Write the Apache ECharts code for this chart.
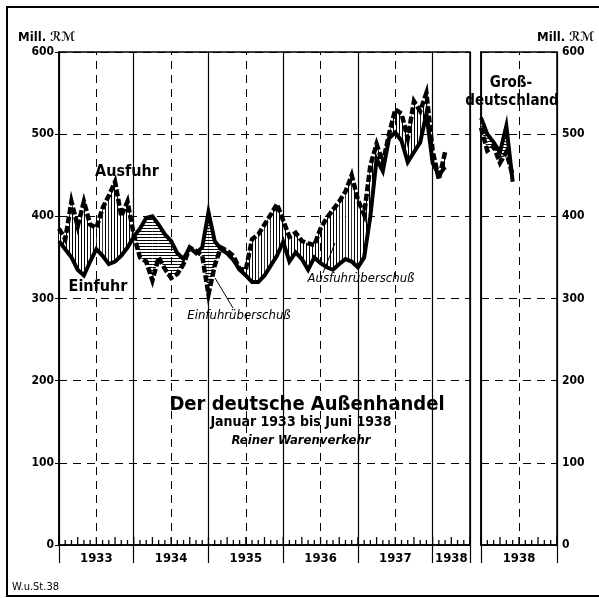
<!DOCTYPE html>
<html><head><meta charset="utf-8">
<script src="https://cdn.jsdelivr.net/npm/echarts@6/dist/echarts.min.js"></script>
<style>html,body{margin:0;padding:0;background:#fff}#c{width:599px;height:598px}</style>
</head><body><div id="c"></div>
<script>
// Monthly values, Mill. RM — Altreich Jan 1933 .. Mar 1938 (index 0 = Jan 1933)
const ausfuhr = [
  385, 372, 418, 388, 418, 390, 386, 410, 425, 442, 400, 418,
  378, 350, 345, 322, 350, 336, 325, 330, 342, 362, 358, 352,
  305, 340, 362, 358, 352, 336, 335, 372, 378, 390, 402, 415,
  395, 375, 380, 370, 367, 365, 385, 398, 408, 418, 430, 450,
  420, 402, 462, 488, 465, 500, 530, 525, 495, 540, 528, 550,
  480, 445, 478
];
const einfuhr = [
  370, 360, 350, 335, 328, 345, 360, 352, 342, 345, 352, 362,
  375, 385, 398, 400, 390, 378, 370, 355, 348, 362, 355, 362,
  405, 370, 360, 355, 347, 335, 328, 320, 320, 328, 340, 352,
  369, 345, 356, 348, 335, 350, 343, 338, 335, 342, 348, 345,
  338, 350, 400, 470, 455, 495, 502, 492, 466, 478, 490, 525,
  465, 450, 460
];
// Großdeutschland Jan .. Jun 1938
const ausfuhrGD = [508, 480, 485, 465, 478, 450];
const einfuhrGD = [520, 500, 490, 478, 510, 442];

const yearLabelsLeft = ['1933', '1934', '1935', '1936', '1937', '1938'];
const yearLabelPosLeft = [6, 18, 30, 42, 54, 63];
const yearLabelsRight = ['1938'];
const yearLabelPosRight = [6];
const midYearLeft = [6, 18, 30, 42, 54];
const midYearRight = [6];
const monthsLeft = 66;
const monthsRight = 12;

const FONT = "'DejaVu Sans Condensed','DejaVu Sans',sans-serif";

function makePattern(vertical) {
  const c = document.createElement('canvas');
  c.width = 3; c.height = 3;
  const ctx = c.getContext('2d');
  ctx.fillStyle = '#fff'; ctx.fillRect(0, 0, 3, 3);
  ctx.fillStyle = '#000';
  if (vertical) ctx.fillRect(0, 0, 1, 3); else ctx.fillRect(0, 0, 3, 1);
  return { image: c, repeat: 'repeat' };
}
const vPat = makePattern(true);
const hPat = makePattern(false);

function hatchRender(A, E) {
  return function (params, api) {
    const i = params.dataIndex;
    const x1 = i, x2 = i + 1;
    const a1 = A[i], a2 = A[i + 1], e1 = E[i], e2 = E[i + 1];
    const d1 = a1 - e1, d2 = a2 - e2;
    const P = (x, v) => api.coord([x, v]);
    const poly = (pts, d) => ({ type: 'polygon', shape: { points: pts }, style: { fill: d >= 0 ? vPat : hPat, stroke: null } });
    const children = [];
    if (d1 * d2 >= 0) {
      children.push(poly([P(x1, a1), P(x2, a2), P(x2, e2), P(x1, e1)], d1 + d2));
    } else {
      const t = d1 / (d1 - d2);
      const xc = x1 + t, vc = a1 + t * (a2 - a1);
      children.push(poly([P(x1, a1), P(xc, vc), P(x1, e1)], d1));
      children.push(poly([P(xc, vc), P(x2, a2), P(x2, e2)], d2));
    }
    return { type: 'group', children };
  };
}

// month tick marks drawn upward from the zero line
function tickRender(params, api) {
  const m = api.value(0);
  const p = api.coord([m, 0]);
  const len = (m % 3 === 0) ? 8 : 5;
  return { type: 'line', shape: { x1: p[0], y1: p[1], x2: p[0], y2: p[1] - len }, style: { stroke: '#000', lineWidth: 1.3 } };
}

const toXY = arr => arr.map((v, i) => [i, v]);
const segs = arr => arr.slice(0, -1).map((v, i) => [i, v]);
const range = n => Array.from({ length: n + 1 }, (_, i) => [i, 0]);

function labelFmt(pos, labels) {
  return v => { const k = pos.indexOf(v); return k >= 0 ? labels[k] : ''; };
}

const baseXAxis = (grid, max, pos, labels) => ({
  type: 'value', gridIndex: grid, min: 0, max: max, interval: 3, position: 'bottom',
  axisLine: { show: true, lineStyle: { color: '#000', width: 1.5 } },
  axisTick: { show: false },
  splitLine: { show: false },
  axisLabel: { show: true, formatter: labelFmt(pos, labels), color: '#000', fontFamily: FONT, fontWeight: 'bold', fontSize: 13, margin: 7, showMinLabel: true, showMaxLabel: true, hideOverlap: false }
});
const yearXAxis = (grid, max) => ({
  type: 'value', gridIndex: grid, min: 0, max: max, interval: 12, position: 'bottom',
  axisLine: { show: false },
  axisTick: { show: true, inside: false, length: 18, lineStyle: { color: '#000', width: 1.2 } },
  axisLabel: { show: false },
  splitLine: { show: true, lineStyle: { color: '#000', width: 1.2, type: 'solid' } }
});
const yAx = (grid, pos) => ({
  type: 'value', gridIndex: grid, min: 0, max: 600, interval: 100, position: pos,
  axisLine: { show: true, lineStyle: { color: '#000', width: 1.5 } },
  axisTick: { show: true, length: 4, lineStyle: { color: '#000' } },
  axisLabel: { color: '#000', fontFamily: FONT, fontWeight: 'bold', fontSize: 12, margin: 5 },
  splitLine: { show: true, lineStyle: { color: '#000', width: 1, type: [8, 6] } }
});

const markV = (vals) => ({
  silent: true, symbol: ['none', 'none'], animation: false,
  label: { show: false },
  lineStyle: { color: '#000', width: 1, type: [8, 6] },
  emphasis: { disabled: true },
  data: vals.map(v => ({ xAxis: v }))
});

const lineS = (name, data, xi, yi, dashed) => ({
  name, type: 'line', xAxisIndex: xi, yAxisIndex: yi, data: toXY(data),
  symbol: 'none', z: 5,
  lineStyle: { color: '#000', width: dashed ? 4.5 : 4, type: dashed ? [7, 2.5] : 'solid', cap: 'butt', join: 'miter' }
});

const gtext = (text, x, y, size, opts = {}) => ({
  type: 'text', x, y, z: 20,
  style: Object.assign({ text, fill: '#000', font: `${opts.italic ? 'italic ' : ''}${opts.bold === false ? 'normal' : 'bold'} ${size}px ${FONT}`, textAlign: opts.align || 'center', textVerticalAlign: 'middle' })
});

const option = {
  animation: false,
  backgroundColor: '#fff',
  grid: [
    { left: 59, top: 52, width: 411, height: 493, show: true, borderColor: '#000', borderWidth: 1.5, backgroundColor: 'transparent' },
    { left: 481, top: 52, width: 76, height: 493, show: true, borderColor: '#000', borderWidth: 1.5, backgroundColor: 'transparent' }
  ],
  xAxis: [
    baseXAxis(0, monthsLeft, yearLabelPosLeft, yearLabelsLeft),
    yearXAxis(0, monthsLeft),
    baseXAxis(1, monthsRight, yearLabelPosRight, yearLabelsRight),
    yearXAxis(1, monthsRight)
  ],
  yAxis: [yAx(0, 'left'), yAx(1, 'right')],
  series: [
    { type: 'line', xAxisIndex: 0, yAxisIndex: 0, data: [], markLine: markV(midYearLeft), z: 1 },
    { type: 'line', xAxisIndex: 2, yAxisIndex: 1, data: [], markLine: markV(midYearRight), z: 1 },
    { type: 'custom', xAxisIndex: 0, yAxisIndex: 0, data: range(monthsLeft), encode: { x: 0, y: 1 }, renderItem: tickRender, clip: false, z: 6, silent: true },
    { type: 'custom', xAxisIndex: 2, yAxisIndex: 1, data: range(monthsRight), encode: { x: 0, y: 1 }, renderItem: tickRender, clip: false, z: 6, silent: true },
    { type: 'custom', xAxisIndex: 0, yAxisIndex: 0, data: segs(ausfuhr), encode: { x: 0, y: 1 }, renderItem: hatchRender(ausfuhr, einfuhr), clip: false, z: 3, silent: true },
    { type: 'custom', xAxisIndex: 2, yAxisIndex: 1, data: segs(ausfuhrGD), encode: { x: 0, y: 1 }, renderItem: hatchRender(ausfuhrGD, einfuhrGD), clip: false, z: 3, silent: true },
    lineS('Einfuhr', einfuhr, 0, 0, false),
    lineS('Ausfuhr', ausfuhr, 0, 0, true),
    lineS('Einfuhr Großdeutschland', einfuhrGD, 2, 1, false),
    lineS('Ausfuhr Großdeutschland', ausfuhrGD, 2, 1, true)
  ],
  graphic: [
    { type: 'rect', shape: { x: 7, y: 7, width: 600, height: 589 }, style: { fill: null, stroke: '#000', lineWidth: 2 }, z: 0 },
    gtext('Mill. ℛℳ', 18, 38, 13, { align: 'left' }),
    gtext('Mill. ℛℳ', 537, 38, 13, { align: 'left' }),
    gtext('Ausfuhr', 127, 172, 16),
    gtext('Einfuhr', 98, 287, 16),
    gtext('Einfuhrüberschuß', 239, 316, 13, { italic: true, bold: false }),
    gtext('Ausfuhrüberschuß', 361, 279, 13, { italic: true, bold: false }),
    gtext('Groß-', 511, 83, 15),
    gtext('deutschland', 512, 101, 15),
    gtext('Der deutsche Außenhandel', 307, 405, 20),
    gtext('Januar 1933 bis Juni 1938', 301, 422, 14),
    gtext('Reiner Warenverkehr', 301, 441, 13, { italic: true }),
    gtext('W.u.St.38', 12, 587, 11, { align: 'left', bold: false }),
    { type: 'line', shape: { x1: 233, y1: 308, x2: 215, y2: 278 }, style: { stroke: '#000', lineWidth: 1 }, z: 20 },
    { type: 'line', shape: { x1: 323, y1: 273, x2: 335, y2: 243 }, style: { stroke: '#000', lineWidth: 1 }, z: 20 }
  ]
};
const chart = echarts.init(document.getElementById('c'), null, { renderer: 'canvas' });
chart.setOption(option);
</script></body></html>
